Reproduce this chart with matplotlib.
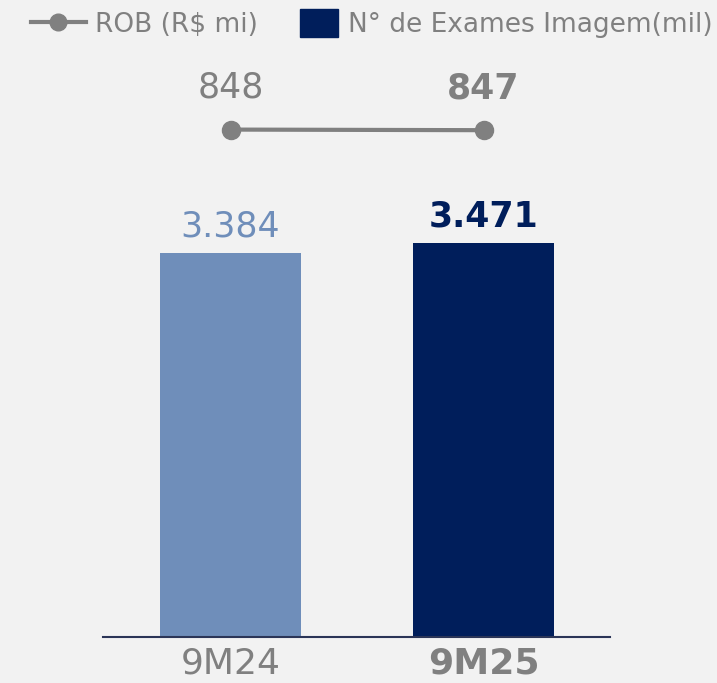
import matplotlib
matplotlib.use("Agg")
import matplotlib.pyplot as plt
from matplotlib.lines import Line2D
from matplotlib.patches import Patch, Rectangle
from matplotlib.legend_handler import HandlerPatch

periods = ["9M24", "9M25"]
exames = [3384, 3471]          # Nº de Exames Imagem (mil)
exames_lbl = ["3.384", "3.471"]
rob = [848, 847]               # ROB (R$ mi)

BG = "#f2f2f2"
GREY = "#808080"
LIGHT = "#6f8eba"
NAVY = "#001e5b"
bar_colors = [LIGHT, NAVY]
lbl_colors = [LIGHT, NAVY]
weights = ["normal", "bold"]

plt.rcParams["font.family"] = ["DejaVu Sans"]

fig = plt.figure(figsize=(7.17, 6.83), dpi=100, facecolor=BG)
ax = fig.add_axes([103 / 717, 46 / 683, 507 / 717, 587 / 683])
ax.set_facecolor(BG)
x = range(len(periods))
ax.bar(x, exames, width=0.557, color=bar_colors, zorder=2)
ax.set_xlim(-0.504, 1.5)
ax.set_ylim(0, 5172)
for i, (v, s) in enumerate(zip(exames, exames_lbl)):
    ax.annotate(s, (i, v), xytext=(0, 7), textcoords="offset points",
                ha="center", va="bottom", fontsize=25, color=lbl_colors[i],
                fontweight=weights[i])

ax.set_xticks(list(x))
ax.set_xticklabels(periods, fontsize=26, color=GREY)
for t, w in zip(ax.get_xticklabels(), weights):
    t.set_fontweight(w)
ax.tick_params(axis="x", length=0, pad=7)
ax.set_yticks([])
for sp in ["top", "right", "left"]:
    ax.spines[sp].set_visible(False)
ax.spines["bottom"].set_color("#2b3557")
ax.spines["bottom"].set_linewidth(1.5)

ax2 = ax.twinx()
ax2.plot(list(x), rob, color=GREY, lw=3, marker="o", ms=13, zorder=3)
ax2.set_ylim(0, 981)
ax2.set_yticks([])
for sp in ax2.spines.values():
    sp.set_visible(False)
for i, v in enumerate(rob):
    ax2.annotate(str(v), (i, v), xytext=(0, 18), textcoords="offset points",
                 ha="center", va="bottom", fontsize=25, color=GREY,
                 fontweight=weights[i])


def square_patch(legend, orig_handle, xdescent, ydescent, width, height, fontsize):
    w, h = 27.4, 20.0
    return Rectangle((-xdescent + width - w, -ydescent + (height - h) / 2), w, h)


handles = [Line2D([], [], color=GREY, lw=3, marker="o", ms=12),
           Patch(color=NAVY)]
fig.legend(handles, ["ROB (R$ mi)", "N° de Exames Imagem(mil)"],
           loc="center left", bbox_to_anchor=(31 / 717, 1 - 25 / 683), ncol=2,
           frameon=False, fontsize=19, labelcolor=GREY, handlelength=2.08,
           handleheight=1.0, handletextpad=0.36, columnspacing=0.96,
           borderpad=0, borderaxespad=0,
           handler_map={Patch: HandlerPatch(patch_func=square_patch)})

fig.savefig("out.png", dpi=100, facecolor=BG)
